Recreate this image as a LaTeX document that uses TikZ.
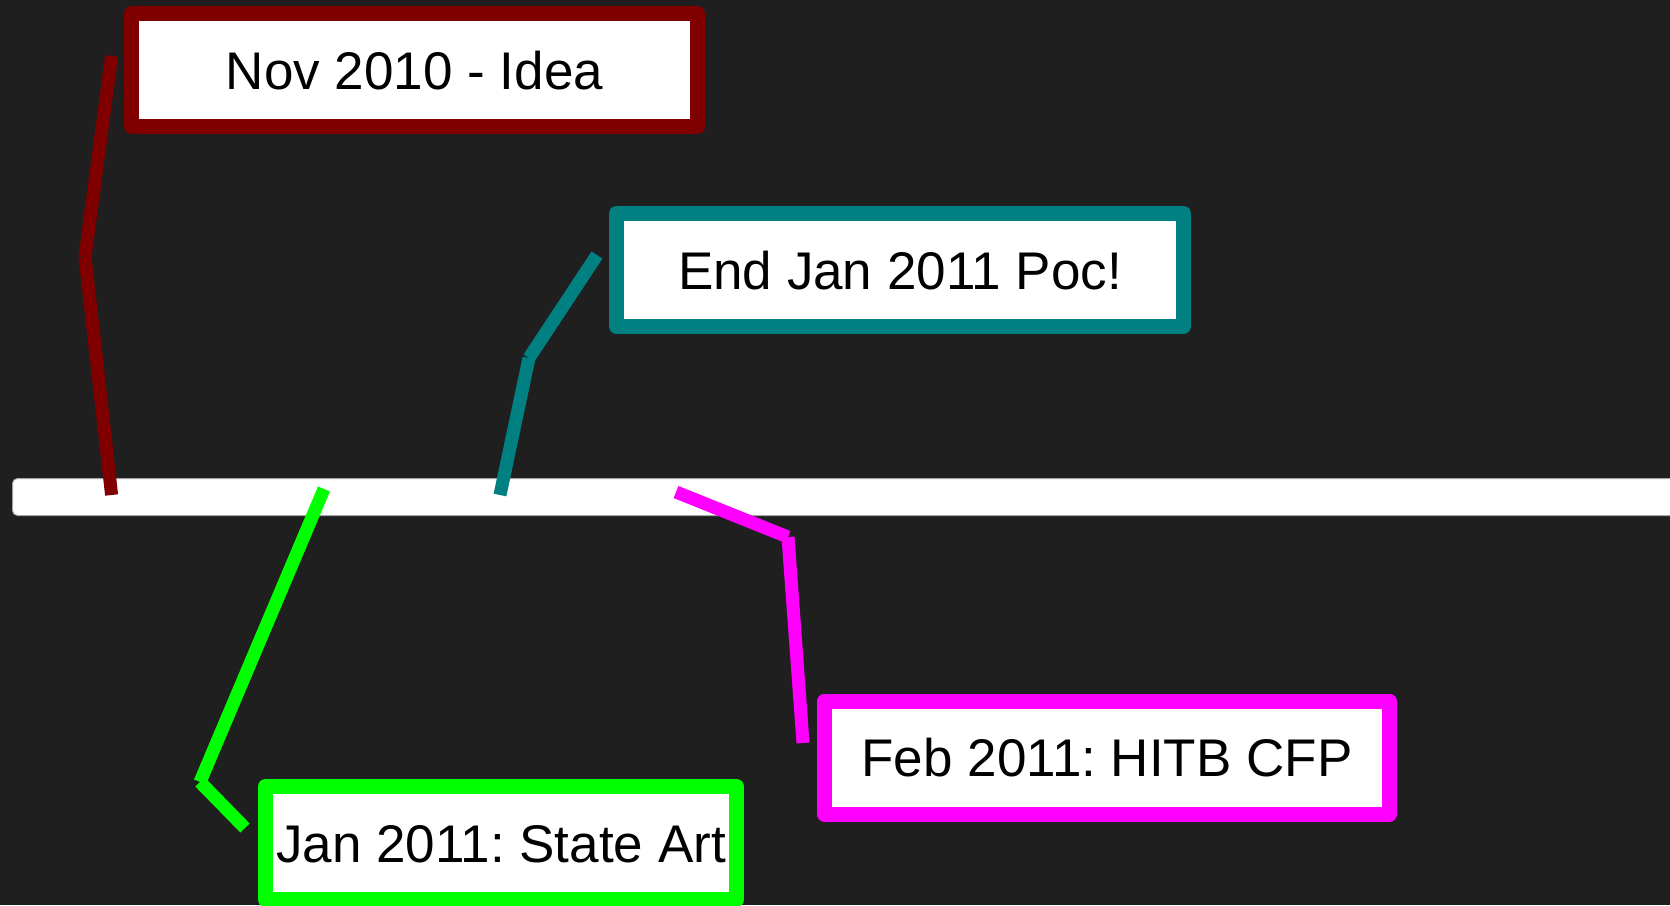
\documentclass[tikz,border=0pt]{standalone}
\usepackage{fontspec}
\setmainfont{Liberation Sans}
\frenchspacing
\definecolor{bg}{HTML}{1F1F1F}
\definecolor{ideared}{HTML}{800000}
\definecolor{pocteal}{HTML}{008080}
\definecolor{stategreen}{HTML}{00FF00}
\definecolor{cfpmagenta}{HTML}{FF00FF}
\tikzset{
  event/.style={draw, line width=15pt, line join=round, fill=white, inner sep=0pt,
    text=black, font=\fontsize{53}{60}\selectfont, text height=38pt, text depth=0pt,
    minimum height=113pt},
  link/.style={line width=13pt, line cap=butt},
  bar/.style={draw=gray!70, line width=1pt, fill=white, rounded corners=5pt,
    inner sep=0pt, minimum height=37pt, minimum width=1700pt, anchor=west}
}
\begin{document}
\begin{tikzpicture}[x=1pt,y=-1pt]
  % canvas
  \fill[bg] (0,0) rectangle (1670,905);
  \useasboundingbox (0,0) rectangle (1670,905);

  % timeline bar
  \node[bar] (timeline) at (12,497) {};

  % event boxes
  \node[event, draw=ideared, minimum width=566pt] (idea) at (414.5,70) {Nov 2010 - Idea};
  \node[event, draw=pocteal, minimum width=567pt] (poc) at (900,270) {End Jan 2011 Poc!};
  \node[event, draw=cfpmagenta, minimum width=565pt] (cfp) at (1107,757.5) {Feb 2011: HITB CFP};
  \node[event, draw=stategreen, minimum width=471pt] (state) at (501,843) {Jan 2011: State Art};

  % connector points
  \coordinate (ideaTop)   at (111.6,56);
  \coordinate (ideaBend)  at (85,257);
  \coordinate (ideaMark)  at (111.6,495);
  \coordinate (pocTop)    at (597,255);
  \coordinate (pocBend)   at (529,358);
  \coordinate (pocMark)   at (500,495);
  \coordinate (stateMark) at (324,489);
  \coordinate (stateBend) at (200,782);
  \coordinate (stateEnd)  at (245,828);
  \coordinate (cfpMark)   at (676,492);
  \coordinate (cfpBend)   at (788,537);
  \coordinate (cfpEnd)    at (803,743);

  % connectors, each as two separate strokes
  \draw[link, ideared] (ideaTop) -- (ideaBend);
  \draw[link, ideared] (ideaBend) -- (ideaMark);
  \draw[link, pocteal] (pocTop) -- (pocBend);
  \draw[link, pocteal] (pocBend) -- (pocMark);
  \draw[link, stategreen] (stateMark) -- (stateBend);
  \draw[link, stategreen] (stateBend) -- (stateEnd);
  \draw[link, cfpmagenta] (cfpMark) -- (cfpBend);
  \draw[link, cfpmagenta] (cfpBend) -- (cfpEnd);
\end{tikzpicture}
\end{document}
